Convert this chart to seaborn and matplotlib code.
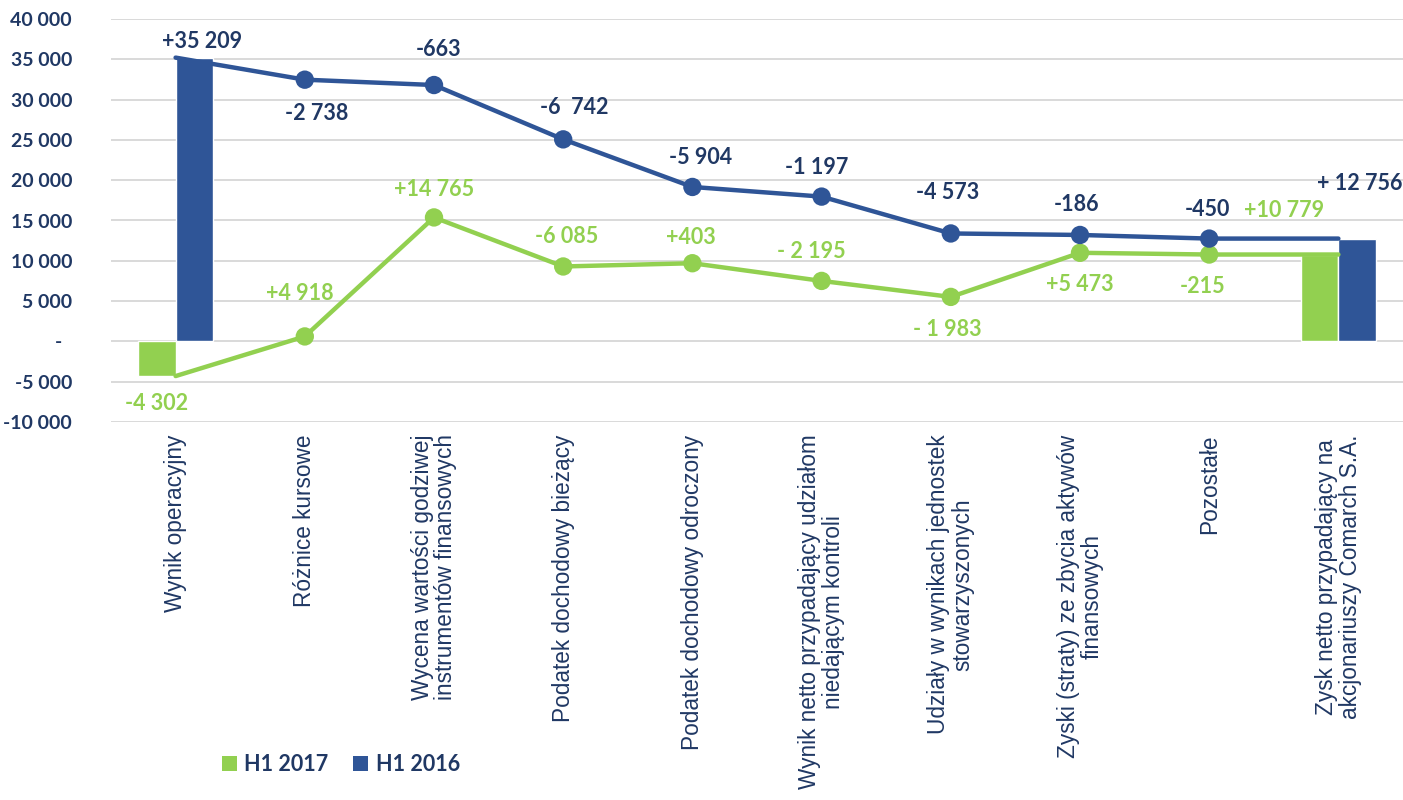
import numpy as np
import pandas as pd
import matplotlib
matplotlib.use('Agg')
import matplotlib.pyplot as plt
import seaborn as sns
from matplotlib.patches import Patch
from matplotlib.ticker import FuncFormatter

# chart data (thousands PLN)
categories = [
    'Wynik operacyjny',
    'Różnice kursowe',
    'Wycena wartości godziwej\ninstrumentów finansowych',
    'Podatek dochodowy bieżący',
    'Podatek dochodowy odroczony',
    'Wynik netto przypadający udziałom\nniedającym kontroli',
    'Udziały w wynikach jednostek\nstowarzyszonych',
    'Zyski (straty) ze zbycia aktywów\nfinansowych',
    'Pozostałe',
    'Zysk netto przypadający na\nakcjonariuszy Comarch S.A.',
]
series = ['H1 2017', 'H1 2016']
delta_2017 = [-4302, 4918, 14765, -6085, 403, -2195, -1983, 5473, -215]
delta_2016 = [35209, -2738, -663, -6742, -5904, -1197, -4573, -186, -450]
labels_2017 = ['-4 302', '+4 918', '+14 765', '-6 085', '+403', '- 2 195',
               '- 1 983', '+5 473', '-215', '+10 779']
labels_2016 = ['+35 209', '-2 738', '-663', '-6  742', '-5 904', '-1 197',
               '-4 573', '-186', '-450', '+ 12 756']

# label offsets in pixels (layout only)
off_2017 = [(0, -27), (-5, 43), (0, 28), (3, 30), (-2, 26), (-10, 29),
            (-3, -33), (0, -32), (-7, -32), (-36, 44)]
off_2016 = [(8, 16), (12, -34), (5, 36), (11, 32), (8, 29), (-5, 29),
            (-3, 41), (-3, 30), (-2, 29), (3, 55)]

green = '#92D050'
blue = '#2F5597'
navy = '#203864'
palette = {'H1 2017': green, 'H1 2016': blue}

# running totals of the waterfall
level_2017 = list(np.cumsum(delta_2017)) + [int(np.sum(delta_2017))]
level_2016 = list(np.cumsum(delta_2016)) + [int(np.sum(delta_2016))]

sns.set_style('white')
plt.rcParams['font.family'] = ['Lato', 'DejaVu Sans']

fig = plt.figure(figsize=(14.03, 8), dpi=100)
ax = fig.add_axes([111 / 1403, 1 - 422 / 800, 1 - 111 / 1403, 403 / 800])

bar_df = pd.DataFrame({
    'category': [categories[0], categories[0], categories[-1], categories[-1]],
    'series': ['H1 2017', 'H1 2016', 'H1 2017', 'H1 2016'],
    'value': [level_2017[0], level_2016[0], level_2017[-1], level_2016[-1]],
})
sns.barplot(data=bar_df, x='category', y='value', hue='series', order=categories,
            hue_order=series, palette=palette, width=0.58, saturation=1,
            errorbar=None, legend=False, ax=ax, zorder=2)

pos = list(range(len(categories)))
line_df = pd.DataFrame({
    'pos': pos + pos,
    'level': level_2017 + level_2016,
    'series': ['H1 2017'] * len(pos) + ['H1 2016'] * len(pos),
})
sns.lineplot(data=line_df, x='pos', y='level', hue='series', hue_order=series,
             palette=palette, linewidth=3.2, sort=False, legend=False, ax=ax, zorder=3)
mid = line_df[(line_df['pos'] > 0) & (line_df['pos'] < len(pos) - 1)]
sns.scatterplot(data=mid, x='pos', y='level', hue='series', hue_order=series,
                palette=palette, s=175, edgecolor='none', legend=False, ax=ax, zorder=4)

# value labels
half = 0.145
for i in range(len(categories)):
    if i == 0 or i == len(categories) - 1:
        x17, x16 = i - half, i + half
    else:
        x17 = x16 = i
    ax.annotate(labels_2017[i], xy=(x17, level_2017[i]), xytext=off_2017[i],
                textcoords='offset pixels', ha='center', va='center',
                fontsize=15.5, fontweight='bold', color=green, zorder=5)
    ax.annotate(labels_2016[i], xy=(x16, level_2016[i]), xytext=off_2016[i],
                textcoords='offset pixels', ha='center', va='center',
                fontsize=15.5, fontweight='bold', color=navy, zorder=5)

ax.set_xlim(-0.5, len(categories) - 0.5)
ax.set_ylim(-10000, 40000)
ax.set_yticks(range(-10000, 40001, 5000))


def fmt(v, p):
    if v == 0:
        return '-  '
    return f'{int(v):,}'.replace(',', ' ')


ax.yaxis.set_major_formatter(FuncFormatter(fmt))
ax.set_xticks(pos)
ax.set_xticklabels(categories, rotation=90, ha='center', va='top', fontsize=16.3,
                   family='Liberation Sans', color=navy, linespacing=1.05)
ax.tick_params(axis='x', length=0, pad=9)
ax.tick_params(axis='y', length=0, pad=28, labelsize=14, labelcolor=navy)
for lab in ax.get_yticklabels():
    lab.set_fontweight('bold')
ax.set_xlabel('')
ax.set_ylabel('')
ax.yaxis.grid(True, color='#D9D9D9', linewidth=1.4)
ax.xaxis.grid(False)
ax.set_axisbelow(True)
sns.despine(ax=ax, left=True, bottom=True)

handles = [Patch(facecolor=green, edgecolor='none', label='H1 2017'),
           Patch(facecolor=blue, edgecolor='none', label='H1 2016')]
leg = fig.legend(handles=handles, loc='center', bbox_to_anchor=(0.243, 0.044), ncol=2,
                 frameon=False, handlelength=0.7, handleheight=0.7, handletextpad=0.35,
                 columnspacing=1.15, prop={'family': 'Lato', 'weight': 'bold', 'size': 15.5})
for t in leg.get_texts():
    t.set_color(navy)

fig.savefig('out.png', dpi=100)
